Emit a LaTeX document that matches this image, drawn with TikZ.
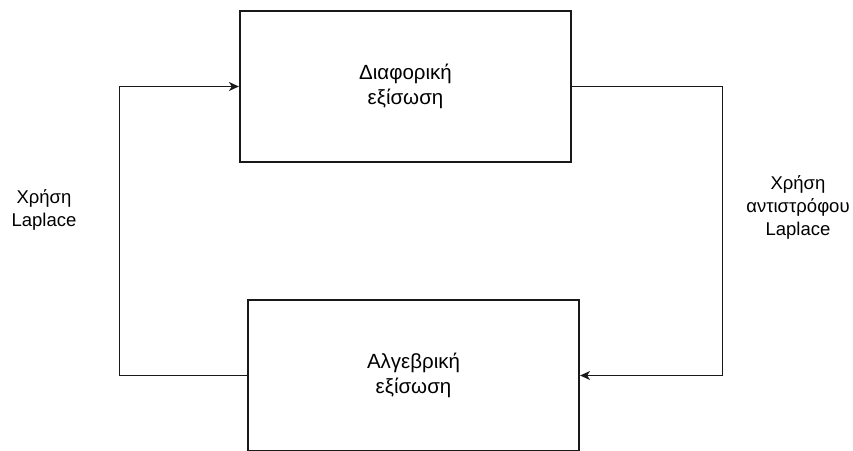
\documentclass[tikz,border=0pt]{standalone}
\usepackage{fontspec}
\setmainfont{Liberation Sans}
\usetikzlibrary{arrows.meta}
\begin{document}
\begin{tikzpicture}[x=1pt, y=-1pt,
  box/.style={draw=black!90, line width=2.2pt, rectangle, minimum width=331pt,
    minimum height=151pt, align=center, font=\fontsize{20.5}{25}\selectfont,
    text=black, inner sep=0pt},
  lbl/.style={align=center, font=\fontsize{18.5}{23}\selectfont, text=black},
  link/.style={draw=black!90, line width=1pt, -{Stealth[length=10pt,width=9pt,inset=3pt]}}]
  \useasboundingbox[fill=white] (0,0) rectangle (853,450);
  \clip (0,0) rectangle (853,450);
  % the two equation boxes
  \node[box] (diff) at (405.5,86.5) {Διαφορική\\εξίσωση};
  \node[box] (alg) at (413.5,375.5) {Αλγεβρική\\εξίσωση};
  % turning columns of the two loops
  \coordinate (lx) at (119,0);
  \coordinate (rx) at (722,0);
  % transforms between the boxes
  \draw[link] (alg.west) -- (alg.west -| lx) |- (diff.west);
  \draw[link] (diff.east) -- (diff.east -| rx) |- (alg.east);
  % transform labels
  \node[lbl] (lapl) at (44,210) {Χρήση\\Laplace};
  \node[lbl] (ilapl) at (798,207) {Χρήση\\αντιστρόφου\\Laplace};
\end{tikzpicture}
\end{document}
